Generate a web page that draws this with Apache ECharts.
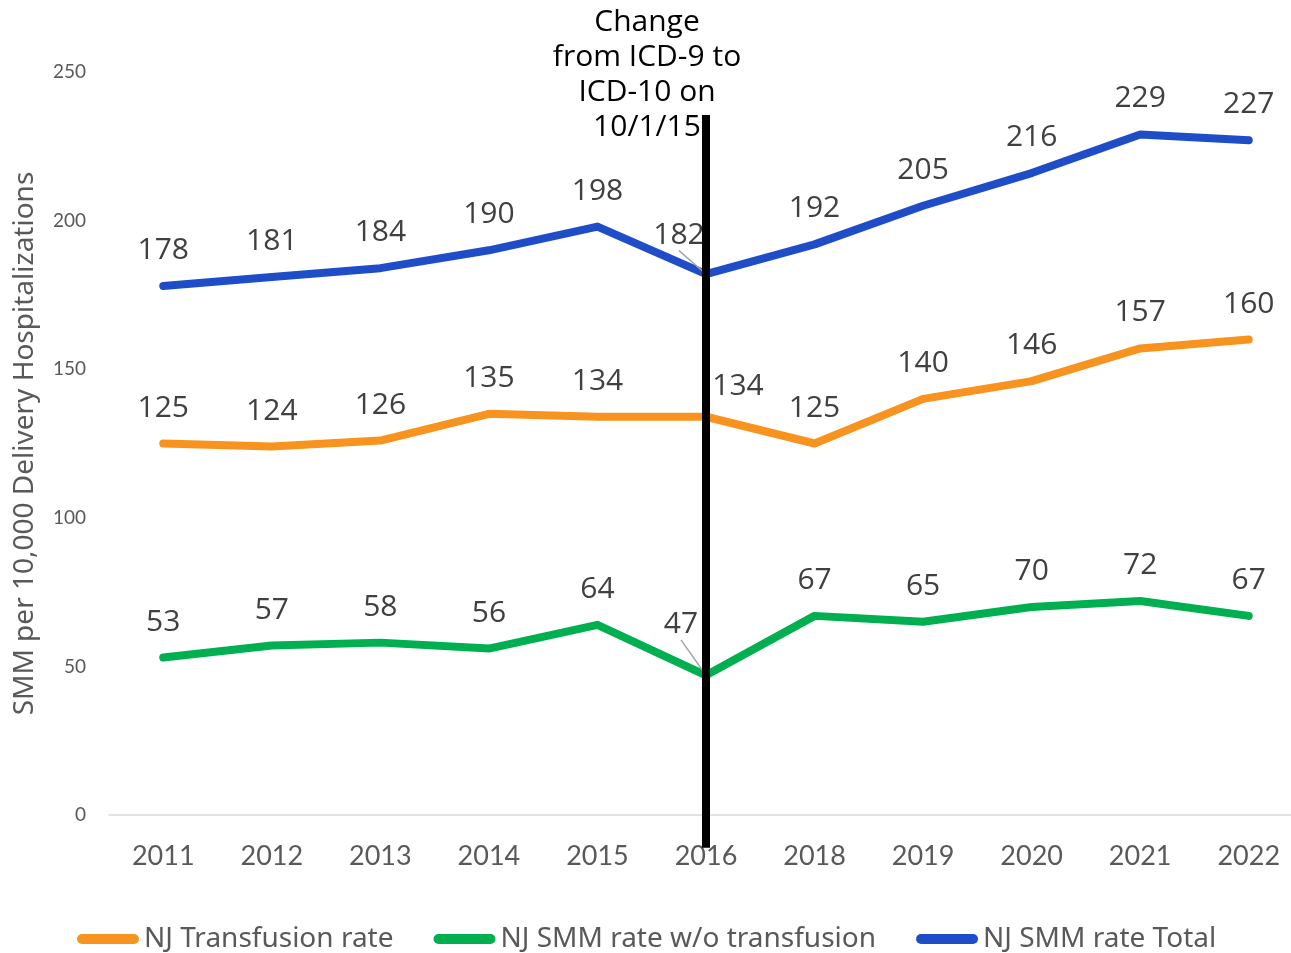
<!DOCTYPE html>
<html>
<head>
<meta charset="utf-8">
<script src="https://cdn.jsdelivr.net/npm/echarts@6/dist/echarts.min.js"></script>
<style>
html, body { margin: 0; padding: 0; background: #fff; }
#main { width: 1291px; height: 953px; }
</style>
</head>
<body>
<div id="main"></div>
<script>
var years = ['2011', '2012', '2013', '2014', '2015', '2016', '2018', '2019', '2020', '2021', '2022'];
var transfusion = [125, 124, 126, 135, 134, 134, 125, 140, 146, 157, 160];
var smmNoTransfusion = [53, 57, 58, 56, 64, 47, 67, 65, 70, 72, 67];
var smmTotal = [178, 181, 184, 190, 198, 182, 192, 205, 216, 229, 227];
var yTicks = [0, 50, 100, 150, 200, 250];
// ICD change marker: category index, top and bottom value of the black line
var icdChange = [[5, 235.5, -11]];
var icdText = 'Change\nfrom ICD-9 to\nICD-10 on\n10/1/15';

var myChart = echarts.init(document.getElementById('main'));

var labelFont = '"Open Sans", sans-serif';
var axisFont = 'Lato, sans-serif';
var sideFont = '"Noto Sans", sans-serif';
var pathIcon = 'path://M5,0 H57 A5,5 0 0 1 57,10 H5 A5,5 0 0 1 5,0 Z';

// offsets for the labels that were moved by hand in the original
var moved = {
	'0-5' : [32, 5],
	'1-5' : [-25, -15],
	'2-5' : [-27, -3]
};
// labels that got a leader line
var leader = { '1-5' : true, '2-5' : true };

function lineSeries(name, values, color, idx) {
	var data = values.map(function(v, i) {
		var item = { value : v };
		if (leader[idx + '-' + i]) {
			item.labelLine = { show : true };
		}
		return item;
	});
	return {
		name : name,
		type : 'line',
		data : data,
		symbol : 'circle',
		symbolSize : 7,
		showSymbol : true,
		z : 3,
		lineStyle : {
			color : color,
			width : 8,
			cap : 'round',
			join : 'round'
		},
		itemStyle : {
			color : color
		},
		label : {
			show : true,
			position : 'top',
			distance : 17,
			fontFamily : labelFont,
			fontSize : 30,
			color : '#404040'
		},
		labelLine : {
			show : false,
			lineStyle : {
				color : '#a6a6a6',
				width : 1.5
			}
		},
		labelLayout : function(params) {
			var off = moved[idx + '-' + params.dataIndex];
			if (off) {
				return { dx : off[0], dy : off[1] };
			}
			return {};
		}
	};
}

var option = {
	animation : false,
	grid : {
		left : 109,
		top : 72,
		width : 1194,
		height : 743,
		outerBoundsMode : 'none',
		containLabel : false
	},
	legend : {
		left : 72,
		top : 920,
		itemWidth : 62,
		itemHeight : 10,
		itemGap : 40,
		textStyle : {
			fontFamily : sideFont,
			fontSize : 28,
			color : '#595959'
		},
		data : [
			{ name : 'NJ Transfusion rate', icon : pathIcon },
			{ name : 'NJ SMM rate w/o transfusion', icon : pathIcon },
			{ name : 'NJ SMM rate Total', icon : pathIcon }
		]
	},
	xAxis : {
		type : 'category',
		data : years,
		boundaryGap : true,
		axisLine : {
			lineStyle : { color : '#d9d9d9', width : 1.5 }
		},
		axisTick : { show : false },
		axisLabel : {
			margin : 28,
			fontFamily : axisFont,
			fontSize : 27,
			color : '#595959'
		}
	},
	yAxis : {
		type : 'value',
		min : yTicks[0],
		max : yTicks[yTicks.length - 1],
		interval : 50,
		splitLine : { show : false },
		axisLine : { show : false },
		axisTick : { show : false },
		axisLabel : {
			margin : 23,
			fontFamily : axisFont,
			fontSize : 19,
			color : '#595959'
		},
		name : 'SMM per 10,000 Delivery Hospitalizations',
		nameLocation : 'middle',
		nameGap : 70,
		nameTextStyle : {
			fontFamily : sideFont,
			fontSize : 28,
			color : '#595959'
		}
	},
	series : [
		lineSeries('NJ Transfusion rate', transfusion, '#F7931E', 0),
		lineSeries('NJ SMM rate w/o transfusion', smmNoTransfusion, '#00B050', 1),
		lineSeries('NJ SMM rate Total', smmTotal, '#1F4DC8', 2),
		{
			type : 'custom',
			data : icdChange,
			z : 5,
			silent : true,
			clip : false,
			renderItem : function(params, api) {
				var top = api.coord([api.value(0), api.value(1)]);
				var bottom = api.coord([api.value(0), api.value(2)]);
				return {
					type : 'group',
					children : [ {
						type : 'line',
						shape : { x1 : top[0], y1 : top[1], x2 : bottom[0], y2 : bottom[1] },
						style : { stroke : '#000', lineWidth : 8 }
					}, {
						type : 'text',
						x : top[0] - 59,
						y : top[1] - 110,
						style : {
							text : icdText,
							align : 'center',
							verticalAlign : 'top',
							fontFamily : labelFont,
							fontSize : 30,
							lineHeight : 35,
							fill : '#000'
						}
					} ]
				};
			}
		}
	]
};

myChart.setOption(option);
</script>
</body>
</html>
